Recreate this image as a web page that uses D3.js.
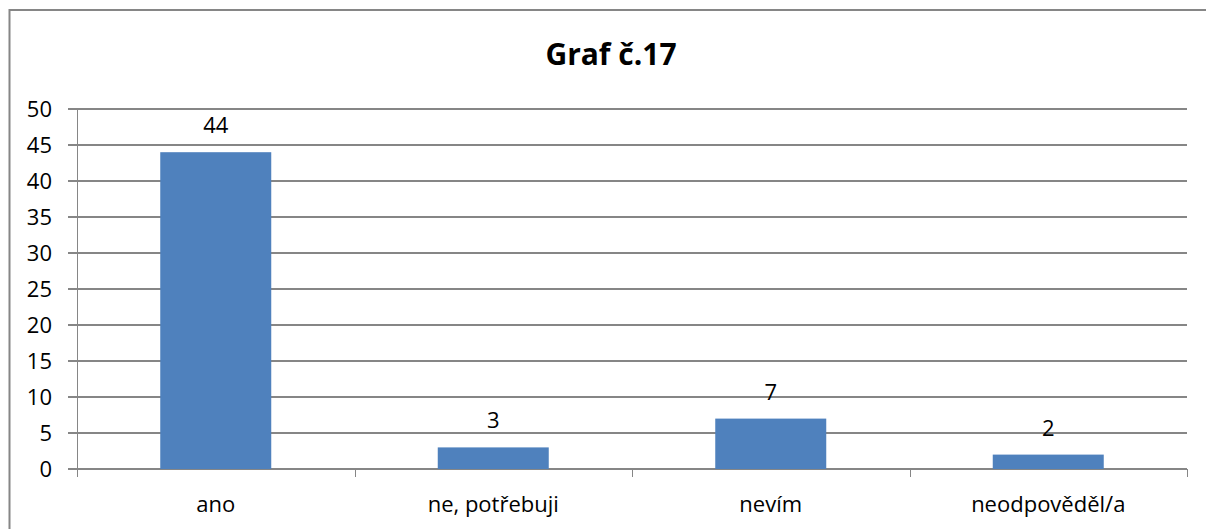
<!DOCTYPE html>
<html>
<head>
<meta charset="utf-8">
<script src="https://cdn.jsdelivr.net/npm/d3@7"></script>
<style>
  html, body { margin: 0; background: #fff; overflow: hidden; }
  svg { display: block; }
  svg text { font-family: "Open Sans", "Noto Sans", sans-serif; fill: #000; }
</style>
</head>
<body>
<div id="chart"></div>
<script>
// data
const categories = ['ano', 'ne, potřebuji', 'nevím', 'neodpověděl/a']
const values = [44, 3, 7, 2]
const yTicks = [0, 5, 10, 15, 20, 25, 30, 35, 40, 45, 50]
const title = 'Graf č.17'

const width = 1206
const height = 529
const margin = { left: 77, right: 19, top: 109, bottom: 60 }

const svg = d3.select('#chart')
    .append('svg')
    .attr('width', width)
    .attr('height', height)

// outer frame (right and bottom edges run off the page)
svg.append('rect')
    .attr('x', 9.5)
    .attr('y', 10)
    .attr('width', 1220)
    .attr('height', 540)
    .attr('fill', 'none')
    .attr('stroke', '#868686')
    .attr('stroke-width', 2)

svg.append('text')
    .attr('x', 611)
    .attr('y', 65)
    .attr('text-anchor', 'middle')
    .style('font-size', '30px')
    .style('font-weight', 'bold')
    .text(title)

const x = d3.scaleBand()
    .domain(categories)
    .range([margin.left, width - margin.right])
    .paddingInner(0.6)
    .paddingOuter(0.3)

const y = d3.scaleLinear()
    .domain([0, 50])
    .range([height - margin.bottom, margin.top])

// gridlines
svg.append('g')
    .selectAll('line')
    .data(yTicks)
    .join('line')
    .attr('x1', margin.left - 9)
    .attr('x2', width - margin.right)
    .attr('y1', d => Math.round(y(d)))
    .attr('y2', d => Math.round(y(d)))
    .attr('stroke', '#868686')
    .attr('stroke-width', 2)

// y axis line
svg.append('line')
    .attr('x1', margin.left + 0.5)
    .attr('x2', margin.left + 0.5)
    .attr('y1', y(50))
    .attr('y2', y(0) + 8)
    .attr('stroke', '#868686')
    .attr('stroke-width', 1)

// y tick labels
svg.append('g')
    .selectAll('text')
    .data(yTicks)
    .join('text')
    .attr('x', 52)
    .attr('y', d => y(d))
    .attr('dy', '0.35em')
    .attr('text-anchor', 'end')
    .style('font-size', '22px')
    .text(d => d)

// category tick marks at band edges
const edges = d3.range(categories.length + 1).map(i => margin.left + i * (width - margin.right - margin.left) / categories.length)
svg.append('g')
    .selectAll('line')
    .data(edges)
    .join('line')
    .attr('x1', d => Math.round(d) + 0.5)
    .attr('x2', d => Math.round(d) + 0.5)
    .attr('y1', y(0))
    .attr('y2', y(0) + 8)
    .attr('stroke', '#868686')
    .attr('stroke-width', 1)

// bars
svg.append('g')
    .selectAll('rect')
    .data(values)
    .join('rect')
    .attr('x', (d, i) => x(categories[i]))
    .attr('y', d => y(d))
    .attr('width', x.bandwidth())
    .attr('height', d => y(0) - y(d))
    .attr('fill', '#4F81BD')

// value labels
svg.append('g')
    .selectAll('text')
    .data(values)
    .join('text')
    .attr('x', (d, i) => x(categories[i]) + x.bandwidth() / 2)
    .attr('y', d => y(d) - 19)
    .attr('text-anchor', 'middle')
    .style('font-size', '22px')
    .text(d => d)

// category labels
svg.append('g')
    .selectAll('text')
    .data(categories)
    .join('text')
    .attr('x', d => x(d) + x.bandwidth() / 2)
    .attr('y', y(0) + 43)
    .attr('text-anchor', 'middle')
    .style('font-size', '22px')
    .text(d => d)
</script>
</body>
</html>
